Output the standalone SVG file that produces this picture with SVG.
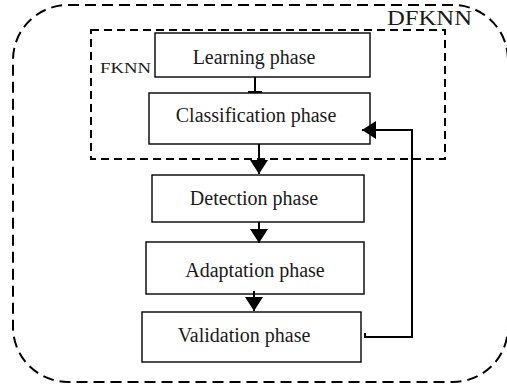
<svg xmlns="http://www.w3.org/2000/svg" width="507" height="389" viewBox="0 0 507 389">
<style>
.box{fill:#fff;stroke:#000;stroke-width:1.4}
.t{font-family:"Liberation Serif","Times New Roman",serif;font-size:20px;fill:#1a1a1a;text-anchor:middle}
.lbl{font-family:"Liberation Serif","Times New Roman",serif;fill:#1a1a1a}
.con{fill:none;stroke:#000;stroke-width:2}
</style>
<defs>
<marker id="ah" markerUnits="userSpaceOnUse" markerWidth="16" markerHeight="18" refX="14" refY="9" orient="auto">
<path d="M0,0 L14,9 L0,18 z" fill="#000"/>
</marker>
</defs>
<g id="dfknn">
<rect x="13" y="5" width="495" height="377" rx="55" ry="55" fill="none" stroke="#000" stroke-width="2" stroke-dasharray="11,6"/>
<text class="lbl" x="387" y="25" font-size="20" textLength="85" lengthAdjust="spacingAndGlyphs">DFKNN</text>
</g>
<g id="fknn">
<rect x="91" y="30" width="354" height="129" fill="none" stroke="#000" stroke-width="2" stroke-dasharray="8,5"/>
<text class="lbl" x="100" y="73" font-size="15" textLength="51" lengthAdjust="spacingAndGlyphs">FKNN</text>
</g>
<g id="learning">
<rect class="box" x="155" y="33" width="215" height="44"/>
<text class="t" x="254" y="64">Learning phase</text>
</g>
<g id="classification">
<rect class="box" x="149" y="93" width="221" height="51"/>
<text class="t" x="256" y="122">Classification phase</text>
</g>
<g id="detection">
<rect class="box" x="152" y="175" width="212" height="47"/>
<text class="t" x="254" y="205">Detection phase</text>
</g>
<g id="adaptation">
<rect class="box" x="146" y="242" width="218" height="52"/>
<text class="t" x="255" y="277">Adaptation phase</text>
</g>
<g id="validation">
<rect class="box" x="142" y="312" width="219" height="50"/>
<text class="t" x="244" y="342">Validation phase</text>
</g>
<g id="connectors">
<line class="con" x1="255" y1="77" x2="255" y2="92"/>
<line class="con" x1="248" y1="92" x2="262" y2="92"/>
<line class="con" x1="259" y1="144" x2="259" y2="174" marker-end="url(#ah)"/>
<line class="con" x1="259" y1="222" x2="259" y2="243" marker-end="url(#ah)"/>
<line class="con" x1="254" y1="291" x2="254" y2="311" marker-end="url(#ah)"/>
<polyline class="con" points="365,333 365,337 412,337 412,130 362,130" marker-end="url(#ah)"/>
</g>
</svg>
